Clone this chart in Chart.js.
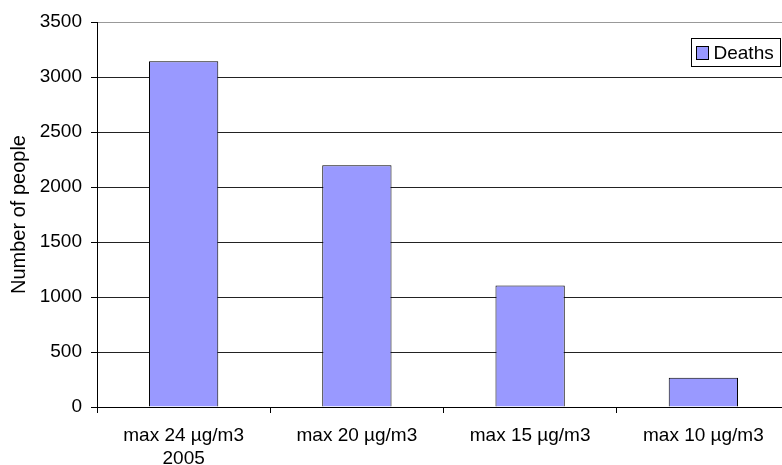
<!DOCTYPE html>
<html>
<head>
<meta charset="utf-8">
<script src="https://cdn.jsdelivr.net/npm/chart.js@4/dist/chart.umd.min.js"></script>
<style>
  html, body { margin: 0; padding: 0; background: #fff; overflow: hidden; }
  #wrap { position: relative; width: 782px; height: 465px; overflow: hidden; }
  canvas { position: absolute; left: 0; top: 0; }
</style>
</head>
<body>
<div id="wrap"><canvas id="deaths_chart" width="800" height="465"></canvas></div>
<script>
// values
var categories = [["max 24 µg/m3", "2005"], "max 20 µg/m3", "max 15 µg/m3", "max 10 µg/m3"];
var deaths = [3143, 2198, 1104, 265];
var yTicks = [0, 500, 1000, 1500, 2000, 2500, 3000, 3500];
var seriesLabel = "Deaths";
var axisTitle = "Number of people";

var fontFamily = "'Liberation Sans', Arial, sans-serif";

// legend is drawn by hand, boxed like the old spreadsheet one
var boxedLegend = {
    id: "boxedLegend",
    afterDraw: function(chart){
        var ctx = chart.ctx;
        var ds = chart.data.datasets[0];
        ctx.save();
        ctx.fillStyle = "#fff";
        ctx.fillRect(691.5, 38.5, 89, 28);
        ctx.strokeStyle = "#000";
        ctx.lineWidth = 1;
        ctx.strokeRect(691.5, 38.5, 89, 28);
        ctx.fillStyle = ds.backgroundColor;
        ctx.fillRect(696.5, 46.5, 12, 13);
        ctx.strokeRect(696.5, 46.5, 12, 13);
        ctx.fillStyle = "#000";
        ctx.font = "19px " + fontFamily;
        ctx.textBaseline = "middle";
        ctx.textAlign = "left";
        ctx.fillText(ds.label, 713.5, 53.5);
        ctx.restore();
    }
};

var ctx = document.getElementById("deaths_chart");
var chart = new Chart(ctx, {
    type: "bar",
    data: {
        labels: categories,
        datasets: [{
            label: seriesLabel,
            data: deaths,
            backgroundColor: "#9999FF",
            borderColor: "#000",
            borderWidth: 1,
            barPercentage: 1,
            categoryPercentage: 0.4
        }]
    },
    options: {
        responsive: false,
        animation: false,
        devicePixelRatio: 1,
        layout: {
            padding: { top: 22, right: 10, bottom: 0, left: 0 }
        },
        plugins: {
            legend: { display: false },
            tooltip: { enabled: false }
        },
        scales: {
            x: {
                grid: {
                    offset: true,
                    drawOnChartArea: false,
                    drawTicks: true,
                    tickLength: 6,
                    color: "#000"
                },
                border: { color: "#000", width: 1 },
                ticks: {
                    color: "#000",
                    padding: 12,
                    maxRotation: 0,
                    autoSkip: false,
                    font: { family: fontFamily, size: 19, lineHeight: 1.18 }
                },
                afterFit: function(scale){ scale.height = 58; }
            },
            y: {
                min: yTicks[0],
                max: yTicks[yTicks.length - 1],
                afterBuildTicks: function(scale){
                    scale.ticks = yTicks.map(function(v){ return { value: v }; });
                },
                grid: {
                    color: function(c){
                        return (c.tick && c.tick.value === yTicks[yTicks.length - 1]) ? "#999" : "#222";
                    },
                    tickColor: "#000",
                    tickLength: 6,
                    lineWidth: 1
                },
                border: { color: "#000", width: 1 },
                ticks: {
                    color: "#000",
                    padding: 9,
                    font: { family: fontFamily, size: 19 },
                    callback: function(v){ return String(v); }
                },
                title: {
                    display: true,
                    text: axisTitle,
                    color: "#000",
                    padding: { top: 7, bottom: 0 },
                    font: { family: fontFamily, size: 20, lineHeight: 1.2 }
                },
                afterFit: function(scale){ scale.width = 97; }
            }
        }
    },
    plugins: [boxedLegend]
});
</script>
</body>
</html>
